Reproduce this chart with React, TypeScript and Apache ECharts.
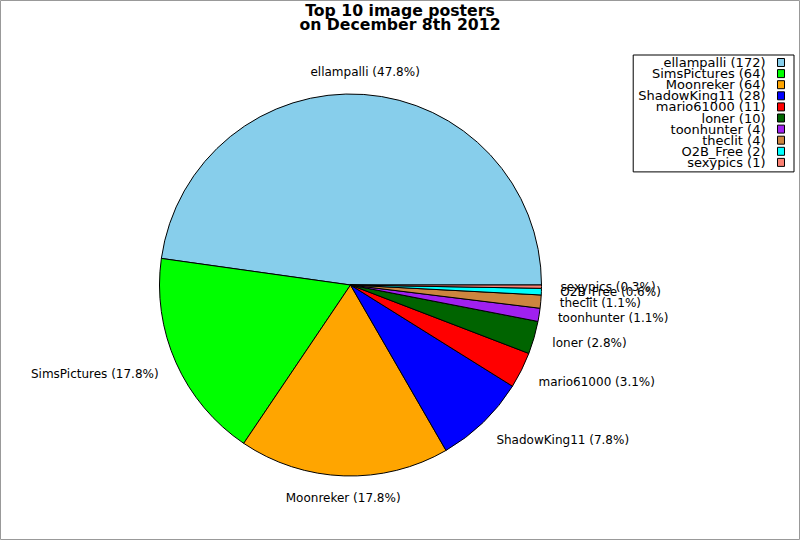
import React, { useEffect, useRef } from "react";
import * as echarts from "echarts";

const titleLines = ["Top 10 image posters", "on December 8th 2012"];
const names = [
  "ellampalli",
  "SimsPictures",
  "Moonreker",
  "ShadowKing11",
  "mario61000",
  "loner",
  "toonhunter",
  "theclit",
  "O2B_Free",
  "sexypics",
];
const values = [172, 64, 64, 28, 11, 10, 4, 4, 2, 1];
const colors = [
  "#87CEEB",
  "#00FF00",
  "#FFA500",
  "#0000FF",
  "#FF0000",
  "#006400",
  "#A020F0",
  "#CD853F",
  "#00FFFF",
  "#FA8072",
];

export default function App() {
  const ref = useRef<HTMLDivElement>(null);
  useEffect(() => {
    if (!ref.current) return;
    const chart = echarts.init(ref.current, null, { renderer: "svg" });
    const total = values.reduce((a, b) => a + b, 0);
    const cum: number[] = [];
    let acc = 0;
    values.forEach((v) => {
      cum.push(acc);
      acc += v;
    });
    const font = "DejaVu Sans";
    chart.setOption({
      animation: false,
      backgroundColor: "#fff",
      title: {
        text: titleLines.join("\n"),
        left: "center",
        top: 3,
        padding: 0,
        textStyle: {
          fontFamily: font,
          fontWeight: "bold",
          fontSize: 15.7,
          lineHeight: 14,
          color: "#000",
        },
      },
      legend: {
        orient: "vertical",
        right: 6,
        top: 55,
        align: "right",
        icon: "rect",
        itemWidth: 7,
        itemHeight: 8,
        itemGap: -1.9,
        padding: [1, 9, 3, 5],
        borderColor: "#000",
        borderWidth: 1,
        selectedMode: false,
        data: names,
        itemStyle: { borderColor: "#000", borderWidth: 1 },
        formatter: (n: string) => `${n} (${values[names.indexOf(n)]})`,
        textStyle: {
          fontFamily: font,
          fontSize: 13,
          padding: [0, 7, 0, 0],
          color: "#000",
        },
      },
      graphic: [
        {
          type: "rect",
          shape: { x: 0.5, y: 0.5, width: 799, height: 539 },
          style: { fill: "none", stroke: "#999", lineWidth: 1 },
          silent: true,
        },
      ],
      series: [
        {
          type: "pie",
          center: [350.5, 285],
          radius: 191,
          startAngle: 0,
          clockwise: false,
          avoidLabelOverlap: false,
          emphasis: { disabled: true },
          itemStyle: { borderColor: "#000", borderWidth: 1 },
          label: {
            show: true,
            position: "outside",
            distanceToLabelLine: 0,
            fontFamily: font,
            fontSize: 12,
            color: "#000",
            formatter: (p: any) =>
              `${p.name} (${((p.value / total) * 100).toFixed(1)}%)`,
          },
          labelLine: { show: false, length: 19, length2: 0 },
          labelLayout: (p: any) => {
            const i = p.dataIndex;
            const mid = ((cum[i] + values[i] / 2) / total) * Math.PI * 2;
            const c = Math.cos(mid);
            const s = Math.sin(mid);
            const dy = Math.abs(s) > 0.35 ? (s > 0 ? -3.5 : 3.5) : 0;
            if (Math.abs(c) < 0.2) {
              return { align: "center", dy };
            }
            return { dy };
          },
          data: names.map((n, i) => ({
            name: n,
            value: values[i],
            itemStyle: { color: colors[i] },
          })),
        },
      ],
    });
    return () => chart.dispose();
  }, []);
  return (
    <div
      ref={ref}
      style={{ position: "absolute", left: 0, top: 0, width: 800, height: 540 }}
    />
  );
}
